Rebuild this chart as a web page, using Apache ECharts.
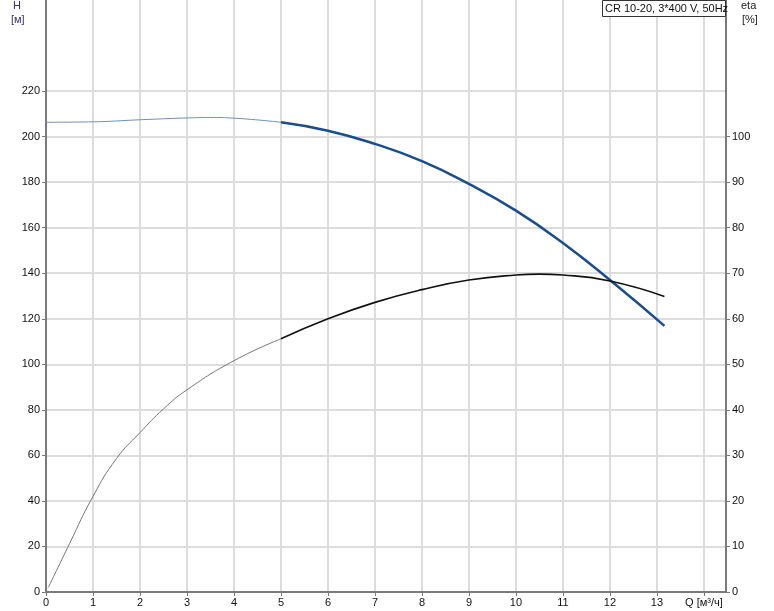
<!DOCTYPE html>
<html><head><meta charset="utf-8">
<script src="https://cdn.jsdelivr.net/npm/echarts@6/dist/echarts.min.js"></script>
<style>html,body{margin:0;padding:0;background:#fff}#c{width:774px;height:611px}</style>
</head><body><div id="c"></div>
<script>
const flowQ = [0, 1, 2, 3, 3.5, 4, 5, 6, 7, 8, 9, 10, 11, 12, 13.16];
const head = [206.3, 206.5, 207.4, 208.2, 208.4, 208.1, 206.3, 202.6, 196.8, 189.2, 179.2, 167.5, 153.3, 137.0, 116.9];
const etaQ = [0.05, 0.5, 1, 1.5, 2, 2.5, 3, 4, 5, 6, 7, 8, 9, 10, 10.5, 11, 12, 13.16];
const etaVals = [1.0, 10.6, 21.0, 29.3, 35.0, 40.2, 44.4, 50.8, 55.6, 60.0, 63.6, 66.4, 68.5, 69.6, 69.8, 69.6, 68.3, 64.9];
const xTicks = [0,1,2,3,4,5,6,7,8,9,10,11,12,13];
const hTicks = [0,20,40,60,80,100,120,140,160,180,200,220];
const etaTicks = [0,10,20,30,40,50,60,70,80,90,100];
const xUnitLabel = 'Q [м³/ч]';
const legendText = 'CR 10-20, 3*400 V, 50Hz';
const splitQ = 5;

const pairs = (xs, ys) => xs.map((x, i) => [x, ys[i]]);
const hAll = pairs(flowQ, head), eAll = pairs(etaQ, etaVals);
const hThin = hAll.filter(p => p[0] <= splitQ), hThick = hAll.filter(p => p[0] >= splitQ);
const eThin = eAll.filter(p => p[0] <= splitQ), eThick = eAll.filter(p => p[0] >= splitQ);

const font = 'Liberation Sans, Arial, sans-serif';
const chart = echarts.init(document.getElementById('c'), null, {renderer: 'canvas'});
const tickStyle = {show: true, length: 4, lineStyle: {color: '#7a7a7a'}};
chart.setOption({
  animation: false,
  backgroundColor: '#fff',
  grid: {left: 46, right: 48, top: 0, bottom: 19, containLabel: false},
  xAxis: {
    type: 'value', min: 0, max: 14.47, interval: 1,
    axisLine: {show: true, onZero: false, lineStyle: {color: '#7a7a7a', width: 2}},
    axisTick: Object.assign({}, tickStyle, {customValues: xTicks.concat([14])}),
    axisLabel: {color: '#111', fontFamily: font, fontSize: 11, margin: 5, showMaxLabel: false,
      formatter: v => (v === 14 ? xUnitLabel : (xTicks.indexOf(v) >= 0 ? String(v) : ''))},
    splitLine: {show: true, lineStyle: {color: '#dcdcdc', width: 2}}
  },
  yAxis: [
    {type: 'value', min: 0, max: 260, interval: 20, position: 'left',
      axisLine: {show: true, lineStyle: {color: '#7a7a7a', width: 2}},
      axisTick: Object.assign({}, tickStyle, {customValues: hTicks}),
      axisLabel: {color: '#111', fontFamily: font, fontSize: 11, margin: 6, formatter: v => (v <= 220 ? String(v) : '')},
      splitLine: {show: true, lineStyle: {color: '#d2d2d2', width: 1.5}}},
    {type: 'value', min: 0, max: 130, interval: 10, position: 'right',
      axisLine: {show: true, lineStyle: {color: '#7a7a7a', width: 2}},
      axisTick: Object.assign({}, tickStyle, {customValues: etaTicks}),
      axisLabel: {color: '#111', fontFamily: font, fontSize: 11, margin: 6, formatter: v => (v <= 100 ? String(v) : '')},
      splitLine: {show: false}}
  ],
  series: [
    {type: 'line', yAxisIndex: 0, data: hThin, smooth: 0.5, showSymbol: false, lineStyle: {color: '#6f8fb5', width: 1}},
    {type: 'line', yAxisIndex: 0, data: hThick, smooth: 0.5, showSymbol: false, lineStyle: {color: '#1a4d8c', width: 2.5}},
    {type: 'line', yAxisIndex: 1, data: eThin, smooth: 0.5, showSymbol: false, lineStyle: {color: '#777', width: 1}},
    {type: 'line', yAxisIndex: 1, data: eThick, smooth: 0.5, showSymbol: false, lineStyle: {color: '#111', width: 1.6}}
  ],
  graphic: [
    {type: 'text', left: 13, top: 0, style: {text: 'H', fill: '#3a2d66', font: '11px ' + font}},
    {type: 'text', left: 11, top: 14, style: {text: '[м]', fill: '#3a2d66', font: '11px ' + font}},
    {type: 'text', left: 741, top: 0, style: {text: 'eta', fill: '#222', font: '11px ' + font}},
    {type: 'text', left: 742, top: 14, style: {text: '[%]', fill: '#222', font: '11px ' + font}},
    {type: 'rect', shape: {x: 602.5, y: 0.5, width: 123, height: 16}, style: {fill: '#fff', stroke: '#333', lineWidth: 1}, z: 10},
    {type: 'text', x: 605, y: 9, style: {text: legendText, fill: '#111', font: '11px ' + font, textVerticalAlign: 'middle'}, z: 11}
  ]
});
</script></body></html>
